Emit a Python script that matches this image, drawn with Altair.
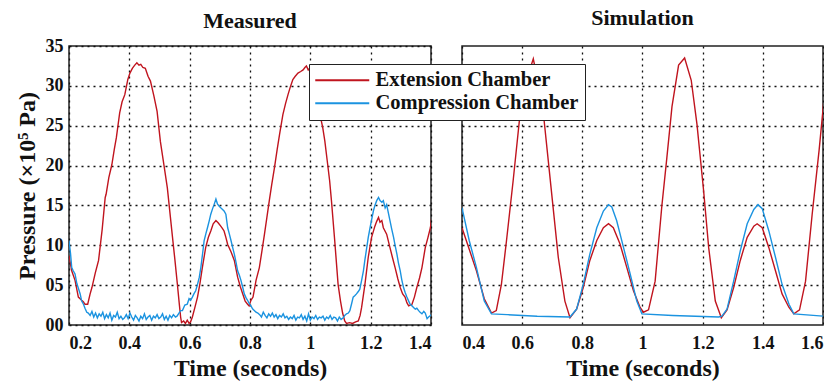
import altair as alt
import pandas as pd

# ---------------- data ----------------
meas_ext_t = [0.200, 0.209, 0.220, 0.231, 0.242, 0.248, 0.253, 0.262, 0.270, 0.276, 0.287, 0.298, 0.310, 0.320, 0.323, 0.332,
              0.342, 0.350, 0.357, 0.368, 0.376, 0.385, 0.395, 0.402, 0.410, 0.418, 0.425, 0.432, 0.438, 0.445, 0.453, 0.462,
              0.470, 0.481, 0.492, 0.503, 0.515, 0.526, 0.542, 0.551, 0.559, 0.566, 0.570, 0.573, 0.580, 0.586, 0.592, 0.598,
              0.603, 0.609, 0.618, 0.626, 0.634, 0.642, 0.653, 0.662, 0.670, 0.678, 0.687, 0.695, 0.703, 0.709, 0.714, 0.720,
              0.726, 0.737, 0.748, 0.759, 0.768, 0.776, 0.784, 0.792, 0.797, 0.803, 0.810, 0.820, 0.831, 0.840, 0.848, 0.856,
              0.864, 0.872, 0.881, 0.890, 0.898, 0.909, 0.918, 0.926, 0.934, 0.942, 0.950, 0.959, 0.968, 0.976, 0.982, 0.987,
              0.993, 0.998, 1.005, 1.012, 1.020, 1.027, 1.034, 1.041, 1.048, 1.056, 1.064, 1.070, 1.081, 1.092, 1.100, 1.107,
              1.114, 1.120, 1.130, 1.140, 1.150, 1.159, 1.165, 1.170, 1.181, 1.192, 1.203, 1.214, 1.220, 1.226, 1.231, 1.237,
              1.242, 1.253, 1.264, 1.272, 1.281, 1.290, 1.298, 1.306, 1.314, 1.320, 1.326, 1.337, 1.345, 1.353, 1.362, 1.370,
              1.381, 1.390, 1.398, 1.405]
meas_ext_p = [8.7, 6.8, 5.6, 3.5, 3.1, 2.9, 2.6, 2.6, 3.9, 4.7, 6.5, 8.1, 12.0, 16.0, 16.4, 18.5,
              20.1, 22.0, 23.5, 26.6, 28.0, 28.9, 30.8, 31.6, 32.2, 32.6, 32.9, 32.6, 32.7, 32.3, 32.2, 31.2,
              30.6, 28.8, 26.8, 23.0, 20.0, 17.2, 11.4, 8.2, 5.2, 2.5, 1.0, 0.3, 0.5, 0.2, 0.6, 0.2,
              0.4, 1.0, 2.3, 3.5, 5.2, 7.2, 9.7, 11.0, 11.8, 12.7, 13.1, 12.8, 12.4, 12.1, 11.8, 11.0,
              10.1, 9.2, 8.1, 6.0, 4.8, 3.9, 3.0, 2.6, 2.4, 3.1, 3.5, 5.6, 7.2, 9.4, 11.4, 13.5,
              15.6, 17.6, 19.7, 22.0, 23.9, 26.4, 27.8, 28.9, 29.9, 30.8, 31.2, 31.6, 31.8, 32.0, 32.3, 32.5,
              32.0, 32.2, 32.4, 31.8, 30.0, 28.0, 26.0, 24.8, 23.1, 20.6, 18.1, 15.6, 10.5, 5.1, 3.0, 1.5,
              0.5, 0.2, 0.3, 0.2, 0.4, 0.5, 1.2, 2.2, 5.1, 8.5, 11.0, 12.4, 13.0, 13.5, 12.9, 13.1,
              12.2, 11.4, 9.7, 8.5, 7.2, 5.8, 4.7, 3.9, 3.5, 2.8, 2.4, 2.6, 3.5, 4.7, 5.9, 7.2,
              9.7, 11.0, 12.2, 14.2]

meas_comp_t = [0.200, 0.205, 0.209, 0.214, 0.220, 0.226, 0.231, 0.237, 0.242, 0.248, 0.253, 0.259, 0.264, 0.270,
               0.276, 0.282, 0.288, 0.294, 0.300, 0.306, 0.312, 0.318, 0.324, 0.330, 0.336, 0.342, 0.348, 0.354,
               0.360, 0.366, 0.372, 0.378, 0.384, 0.390, 0.396, 0.402, 0.408, 0.414, 0.420, 0.426, 0.432, 0.438,
               0.444, 0.450, 0.456, 0.462, 0.468, 0.474, 0.480, 0.486, 0.492, 0.498, 0.504, 0.510, 0.516, 0.522,
               0.528, 0.534, 0.540, 0.546, 0.553, 0.558, 0.563, 0.570, 0.576, 0.584, 0.592, 0.598, 0.603, 0.609,
               0.614, 0.620, 0.626, 0.632, 0.637, 0.643, 0.648, 0.654, 0.659, 0.665, 0.670, 0.676, 0.681, 0.687,
               0.692, 0.698, 0.703, 0.709, 0.714, 0.720, 0.726, 0.731, 0.737, 0.742, 0.748, 0.754, 0.759, 0.765,
               0.770, 0.776, 0.781, 0.787, 0.792, 0.797, 0.803, 0.809, 0.815, 0.820, 0.826,
               0.832, 0.838, 0.844, 0.850, 0.856, 0.862, 0.868, 0.874, 0.880, 0.886, 0.892, 0.898, 0.904, 0.910,
               0.916, 0.922, 0.928, 0.934, 0.940, 0.946, 0.952, 0.958, 0.964, 0.970, 0.976, 0.982, 0.988, 0.994,
               1.000, 1.006, 1.012, 1.018, 1.024, 1.030, 1.036, 1.042, 1.048, 1.054, 1.060, 1.066, 1.072, 1.078,
               1.084, 1.090, 1.096, 1.102, 1.109, 1.114, 1.120, 1.126, 1.131, 1.137, 1.142, 1.148, 1.153, 1.159,
               1.164, 1.170, 1.176, 1.181, 1.187, 1.192, 1.198, 1.203, 1.209, 1.214, 1.220, 1.226, 1.231, 1.237,
               1.242, 1.248, 1.253, 1.259, 1.264, 1.270, 1.276, 1.281, 1.287, 1.292, 1.298, 1.303, 1.309, 1.314,
               1.320, 1.326, 1.331, 1.337, 1.342, 1.348, 1.353, 1.359, 1.364, 1.370, 1.376, 1.381, 1.387, 1.392,
               1.398, 1.400]
meas_comp_p = [10.6, 9.0, 7.2, 6.8, 6.4, 5.2, 4.6, 3.9, 3.0, 2.6, 2.1, 1.6, 1.5, 1.2,
               1.7, 1.0, 1.5, 0.9, 1.4, 1.1, 1.6, 0.8, 1.3, 0.9, 1.5, 0.6, 1.2, 1.0,
               1.6, 0.8, 1.1, 0.7, 0.9, 1.3, 0.8, 1.5, 1.0, 0.6, 1.2, 0.9, 0.5, 1.1,
               0.8, 1.4, 0.7, 1.0, 1.2, 0.6, 1.1, 0.9, 1.3, 0.8, 1.0, 1.4, 0.7, 1.1,
               0.6, 1.2, 0.9, 1.3, 1.0, 1.1, 1.4, 1.8, 1.8, 2.5, 2.6, 3.3, 3.1, 3.5,
               3.9, 4.3, 5.1, 6.0, 7.2, 9.0, 10.6, 11.5, 12.2, 13.1, 13.9, 14.6, 15.1, 15.8,
               15.2, 14.9, 14.7, 14.5, 14.3, 13.9, 12.2, 11.5, 10.6, 9.8, 8.9, 7.8, 6.8, 6.2,
               5.6, 4.7, 3.9, 3.4, 3.1, 2.7, 2.4, 2.0, 1.8, 1.6, 1.5,
               1.3, 1.0, 1.6, 1.2, 0.9, 1.4, 1.1, 1.5, 1.0, 1.3, 0.8, 1.2, 1.0, 1.4,
               0.9, 1.1, 0.7, 1.0, 0.8, 1.2, 0.6, 1.0, 0.9, 1.3, 0.7, 1.1, 0.5, 1.4,
               0.6, 1.0, 0.8, 1.2, 0.7, 1.0, 0.9, 1.1, 0.6, 1.0, 0.8, 1.2, 0.7, 1.0,
               0.9, 0.5, 1.0, 0.7, 0.9, 1.2, 1.4, 1.5, 1.8, 2.7, 3.5, 3.7, 3.9, 4.2,
               4.5, 5.6, 6.8, 8.2, 9.7, 11.0, 12.2, 13.2, 14.3, 15.0, 15.6, 16.0, 15.6, 15.4,
               15.6, 14.7, 15.1, 14.0, 13.1, 12.0, 11.0, 10.0, 8.9, 7.8, 6.8, 5.7, 4.7, 4.1,
               3.5, 3.0, 2.6, 2.4, 2.2, 2.0, 2.1, 1.8, 1.6, 1.4, 1.7, 1.5, 0.8, 1.0,
               1.2, 1.3]

sim_ext_t = [0.400, 0.424, 0.448, 0.474, 0.498, 0.514, 0.531, 0.548, 0.570, 0.592, 0.615, 0.637, 0.655, 0.672,
             0.703, 0.720, 0.742, 0.759, 0.781, 0.803, 0.825, 0.848, 0.870, 0.887, 0.903, 0.925, 0.948, 0.970,
             0.992, 1.003, 1.020, 1.042, 1.064, 1.081, 1.098, 1.120, 1.140, 1.162, 1.181, 1.203, 1.220, 1.242,
             1.262, 1.281, 1.303, 1.325, 1.348, 1.370, 1.381, 1.398, 1.420, 1.442, 1.464, 1.487, 1.503, 1.522,
             1.542, 1.564, 1.587, 1.603]
sim_ext_p = [12.2, 9.5, 6.8, 3.3, 1.5, 1.8, 5.1, 10.6, 18.1, 26.1, 30.8, 33.4, 30.0, 26.0,
             14.7, 8.5, 3.0, 0.9, 2.0, 4.7, 8.1, 10.6, 12.2, 12.7, 12.2, 10.2, 7.2, 4.3,
             2.2, 1.6, 1.9, 5.5, 14.8, 21.0, 27.4, 32.6, 33.5, 30.7, 25.2, 16.9, 9.7, 3.0,
             0.9, 1.9, 4.7, 8.1, 11.0, 12.4, 12.7, 12.2, 9.7, 6.8, 3.9, 2.2, 1.4, 1.9,
             5.5, 13.9, 21.9, 28.2]

sim_comp_t = [0.400, 0.424, 0.448, 0.474, 0.498, 0.550, 0.650, 0.759, 0.781, 0.803, 0.825, 0.848, 0.870, 0.887,
              0.898, 0.914, 0.937, 0.959, 0.981, 0.998, 1.100, 1.253, 1.264, 1.281, 1.303, 1.325, 1.348, 1.370,
              1.384, 1.398, 1.420, 1.442, 1.464, 1.487, 1.503, 1.603]
sim_comp_p = [14.7, 10.6, 7.2, 3.0, 1.4, 1.3, 1.1, 1.0, 2.0, 5.1, 8.9, 12.2, 14.3, 15.1,
              14.8, 13.1, 9.7, 6.4, 3.0, 1.4, 1.2, 1.0, 1.1, 2.0, 5.5, 9.3, 12.7, 14.5,
              15.1, 14.6, 11.8, 8.5, 5.1, 2.6, 1.4, 1.1]

series_names = ["Extension Chamber", "Compression Chamber"]
series_colors = ["#c0141e", "#1b93e0"]
x_ticks_meas = [0.2, 0.4, 0.6, 0.8, 1.0, 1.2, 1.4]
x_ticks_sim = [0.4, 0.6, 0.8, 1.0, 1.2, 1.4, 1.6]
y_ticks = [0, 5, 10, 15, 20, 25, 30, 35]


def frame(ts, ps, name):
    return pd.DataFrame({"t": ts, "p": ps, "series": name, "order": range(len(ts))})


meas = pd.concat([frame(meas_ext_t, meas_ext_p, series_names[0]),
                  frame(meas_comp_t, meas_comp_p, series_names[1])])
sim = pd.concat([frame(sim_ext_t, sim_ext_p, series_names[0]),
                 frame(sim_comp_t, sim_comp_p, series_names[1])])

FONT = "Liberation Serif"

color = alt.Color(
    "series:N",
    scale=alt.Scale(domain=series_names, range=series_colors),
    legend=alt.Legend(
        title=None, orient="none", legendX=240, legendY=18,
        fillColor="white", strokeColor="#222", padding=6,
        symbolType="M-3,0H3", symbolSize=324, symbolStrokeWidth=2,
        symbolOffset=17, labelOffset=23, labelLimit=400,
        labelFont=FONT, labelFontSize=20.5, labelFontWeight="bold", labelColor="#111",
        rowPadding=2,
    ),
    sort=series_names,
)

grid_axis = dict(grid=True, gridColor="#111", gridDash=[2, 4], gridWidth=1.3, gridOpacity=1,
                 ticks=False, domain=False, labelFont=FONT, labelFontSize=18, labelFontWeight="bold",
                 labelColor="#111", titleFont=FONT, titleFontSize=24, titleFontWeight="bold", titleColor="#111")

left = alt.Chart(meas).mark_line(strokeWidth=1.4, clip=True).encode(
    x=alt.X("t:Q", scale=alt.Scale(domain=[0.2, 1.4], nice=False),
            axis=alt.Axis(values=x_ticks_meas, format="~g", title="Time (seconds)",
                          labelPadding=9, titlePadding=4, **grid_axis)),
    y=alt.Y("p:Q", scale=alt.Scale(domain=[0, 35], nice=False),
            axis=alt.Axis(values=y_ticks, labelExpr="datum.value < 10 ? '0' + datum.value : '' + datum.value",
                          title="Pressure (×10⁵ Pa)", labelPadding=6, titlePadding=6, **grid_axis)),
    color=color,
    order="order:Q",
).properties(width=362, height=279,
             title=alt.TitleParams("Measured", font=FONT, fontSize=22, fontWeight="bold", color="#111", offset=4))

right = alt.Chart(sim).mark_line(strokeWidth=1.4, clip=True).encode(
    x=alt.X("t:Q", scale=alt.Scale(domain=[0.4, 1.6], nice=False),
            axis=alt.Axis(values=x_ticks_sim, format="~g", title="Time (seconds)",
                          labelPadding=9, titlePadding=4, **grid_axis)),
    y=alt.Y("p:Q", scale=alt.Scale(domain=[0, 35], nice=False),
            axis=alt.Axis(values=y_ticks[1:-1], labels=False, title=None, **grid_axis)),
    color=color,
    order="order:Q",
).properties(width=361, height=279,
             title=alt.TitleParams("Simulation", font=FONT, fontSize=22, fontWeight="bold", color="#111", offset=16))

chart = alt.hconcat(left, right, spacing=31, bounds="flush").configure_view(
    stroke="#222", strokeWidth=1.5
).properties(padding={"left": 14, "top": 6, "right": 0, "bottom": 0}, background="white")

chart.save("out.html", embed_options={"renderer": "svg", "actions": False})
